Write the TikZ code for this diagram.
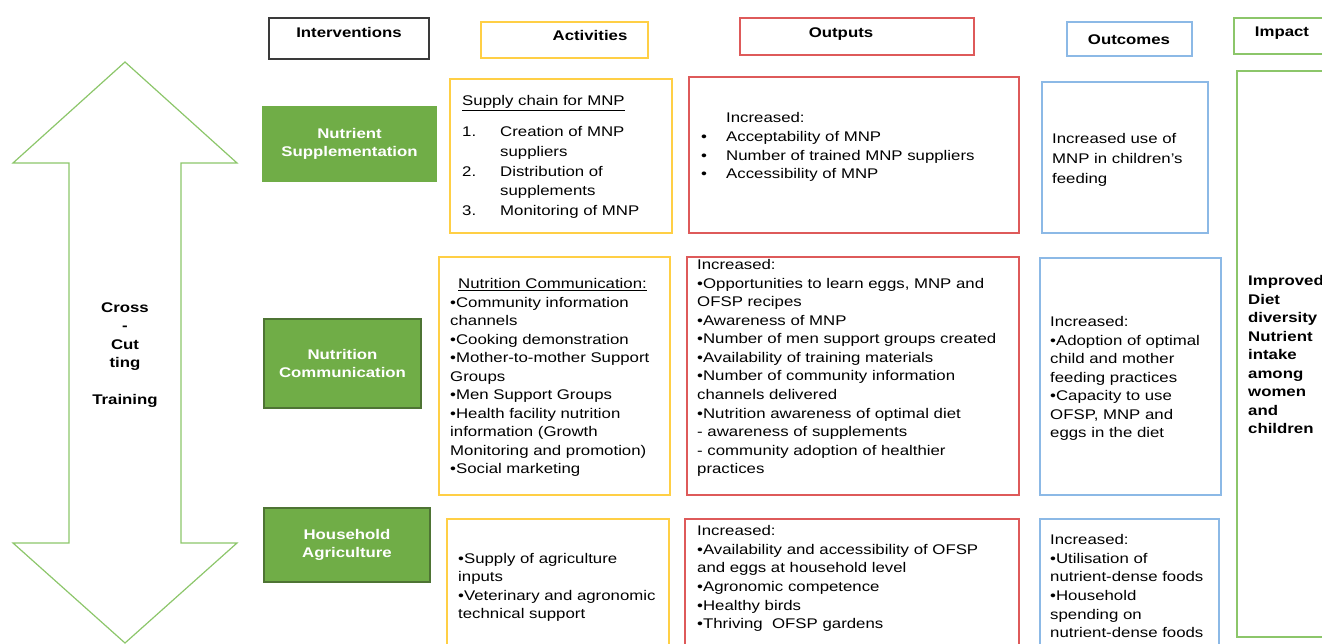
\documentclass[tikz,border=0pt]{standalone}
\usepackage{fontspec}
\setmainfont{Liberation Sans}[FakeStretch=1.2]

\definecolor{boxgreen}{HTML}{70AD47}
\definecolor{boxedge}{HTML}{4E7434}
\definecolor{actyellow}{HTML}{FFCF45}
\definecolor{outred}{HTML}{DE5A5A}
\definecolor{outcblue}{HTML}{8CB9E6}
\definecolor{impgreen}{HTML}{8CC66A}
\definecolor{headgray}{HTML}{3A3A3A}

\begin{document}
\begin{tikzpicture}[x=1pt, y=-1pt,
    body/.style={font=\fontsize{14}{18.5}\selectfont, align=left, anchor=north west, inner sep=0pt},
    head/.style={font=\bfseries\fontsize{14}{17}\selectfont, anchor=base, inner sep=0pt},
    intv/.style={fill=boxgreen, text=white, font=\bfseries\fontsize{14}{18.5}\selectfont, align=center, inner sep=0pt},
    actbox/.style={draw=actyellow, line width=1.5pt},
    outbox/.style={draw=outred, line width=1.5pt},
    outcbox/.style={draw=outcblue, line width=1.5pt},
    impbox/.style={draw=impgreen, line width=1.5pt}]
        \useasboundingbox (0,0) rectangle (1322,644);

        % column headers
        \draw[headgray, line width=1.5pt] (269,18) rectangle (429,59);
        \draw[actbox] (481,22) rectangle (648,58);
        \draw[outbox] (740,18) rectangle (974,55);
        \draw[outcbox] (1067,22) rectangle (1192,56);
        \draw[impbox] (1234,18) rectangle (1330,54);
        \node[head] (hint) at (349,38) {Interventions};
        \node[head] (hact) at (590,41) {Activities};
        \node[head] (hout) at (841,38) {Outputs};
        \node[head] (houtc) at (1129,45) {Outcomes};
        \node[head] (himp) at (1282,37) {Impact};

        % cross-cutting double arrow
        \draw[impgreen, line width=1.2pt] (125,62) -- (237,163) -- (181,163) -- (181,543) -- (237,543)
            -- (125,643) -- (13,543) -- (69,543) -- (69,163) -- (13,163) -- cycle;
        \node[body, anchor=north, align=center, font=\bfseries\fontsize{14}{18.4}\selectfont] (cross) at (125,299.5)
            {\strut Cross\\-\\Cut\\ting\\[18.4pt]Training};

        % interventions
        \node[intv, minimum width=175pt, minimum height=76pt] (nsupp) at (349.5,144) {Nutrient\\Supplementation};
        \node[intv, draw=boxedge, line width=1.5pt, minimum width=157pt, minimum height=89pt] (ncomm) at (342.5,363.5) {Nutrition\\Communication};
        \node[intv, draw=boxedge, line width=1.5pt, minimum width=166pt, minimum height=74pt] (hagri) at (347,545) {Household\\Agriculture};

        % activities
        \draw[actbox] (450,79) rectangle (672,233);
        \draw[actbox] (439,257) rectangle (670,495);
        \draw[actbox] (447,519) rectangle (669,660);
        \node[body] (act1t) at (462,92.5) {\strut\underline{Supply chain for MNP}};
        \node[body, font=\fontsize{14}{19.75}\selectfont] (act1) at (462,122.5)
            {\strut\makebox[38pt][l]{1.}Creation of MNP\\\hspace*{38pt}suppliers\\
             \makebox[38pt][l]{2.}Distribution of\\\hspace*{38pt}supplements\\
             \makebox[38pt][l]{3.}Monitoring of MNP};
        \node[body] (act2) at (450,275.5)
            {\strut\hspace*{8pt}\underline{Nutrition Communication:}\\
             •Community information\\channels\\•Cooking demonstration\\
             •Mother-to-mother Support\\Groups\\•Men Support Groups\\
             •Health facility nutrition\\information (Growth\\
             Monitoring and promotion)\\•Social marketing};
        \node[body, font=\fontsize{14}{18.3}\selectfont] (act3) at (458,550.5)
            {\strut•Supply of agriculture\\inputs\\•Veterinary and agronomic\\technical support};

        % outputs
        \draw[outbox] (689,77) rectangle (1019,233);
        \draw[outbox] (687,257) rectangle (1019,495);
        \draw[outbox] (685,519) rectangle (1019,660);
        \node[body, font=\fontsize{14}{18.7}\selectfont] (out1) at (701,109.5)
            {\strut\hspace*{25pt}Increased:\\
             \makebox[25pt][l]{•}Acceptability of MNP\\
             \makebox[25pt][l]{•}Number of trained MNP suppliers\\
             \makebox[25pt][l]{•}Accessibility of MNP};
        \node[body, font=\fontsize{14}{18.55}\selectfont] (out2) at (697,256.5)
            {\strut Increased:\\•Opportunities to learn eggs, MNP and\\OFSP recipes\\
             •Awareness of MNP\\•Number of men support groups created\\
             •Availability of training materials\\•Number of community information\\
             channels delivered\\•Nutrition awareness of optimal diet\\
             - awareness of supplements\\- community adoption of healthier\\practices};
        \node[body, font=\fontsize{14}{18.6}\selectfont] (out3) at (697,522.5)
            {\strut Increased:\\•Availability and accessibility of OFSP\\
             and eggs at household level\\•Agronomic competence\\
             •Healthy birds\\•Thriving\ \ OFSP gardens};

        % outcomes
        \draw[outcbox] (1042,82) rectangle (1208,233);
        \draw[outcbox] (1040,258) rectangle (1221,495);
        \draw[outcbox] (1040,519) rectangle (1219,660);
        \node[body, font=\fontsize{14}{20}\selectfont] (outc1) at (1052,129.5)
            {\strut Increased use of\\MNP in children’s\\feeding};
        \node[body] (outc2) at (1050,313.5)
            {\strut Increased:\\•Adoption of optimal\\child and mother\\feeding practices\\
             •Capacity to use\\OFSP, MNP and\\eggs in the diet};
        \node[body, font=\fontsize{14}{18.6}\selectfont] (outc3) at (1050,531.5)
            {\strut Increased:\\•Utilisation of\\nutrient-dense foods\\•Household\\
             spending on\\nutrient-dense foods};

        % impact
        \draw[impbox] (1237,71) rectangle (1330,637);
        \node[body, font=\bfseries\fontsize{14}{18.5}\selectfont] (imp) at (1248,272.5)
            {\strut Improved\\Diet\\diversity\\Nutrient\\intake\\among\\women\\and\\children};
    \end{tikzpicture}
\end{document}
